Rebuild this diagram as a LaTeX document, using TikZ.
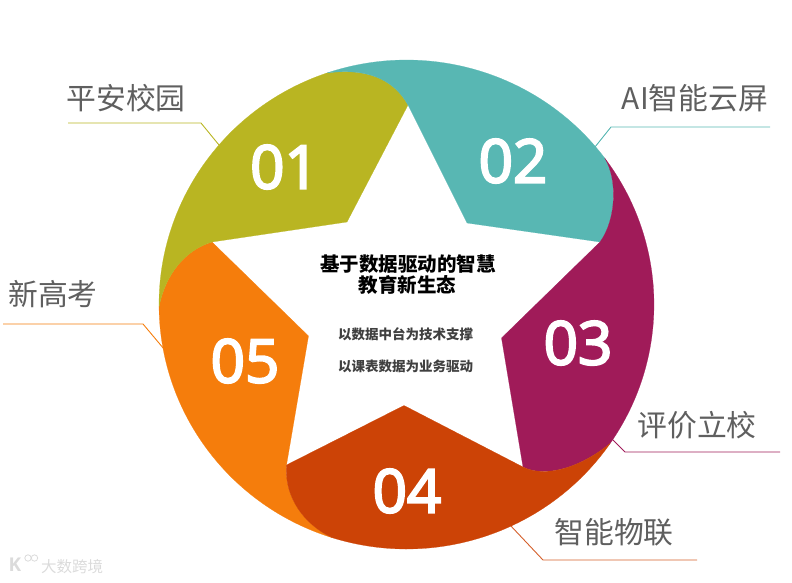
\documentclass[tikz,border=0pt]{standalone}
\usepackage{fontspec}
\setmainfont{Open Sans}
\newfontfamily\numf{Open Sans}[FakeBold=3.5]
\newfontfamily\cjk{Noto Sans CJK SC}
\usetikzlibrary{calc}
\definecolor{c01}{HTML}{B9B522}
\definecolor{c02}{HTML}{58B7B3}
\definecolor{c03}{HTML}{A01B59}
\definecolor{c04}{HTML}{CC4306}
\definecolor{c05}{HTML}{F57D0C}
\definecolor{lab}{HTML}{5F5F5F}
\tikzset{
  seg/.style={fill=#1,draw=#1,line width=0.2pt,line join=round},
  num/.style={text=white,font=\numf\fontsize{60}{60}\selectfont,inner sep=0pt},
  lbl/.style={text=lab,font=\cjk\fontsize{29.8}{30}\selectfont,inner sep=0pt},
  lead/.style={draw=#1,line width=0.9pt},
  title/.style={text=black,font=\cjk\bfseries\fontsize{19.5}{20}\selectfont,inner sep=0pt},
  subt/.style={text=black!75,font=\cjk\bfseries\fontsize{13.5}{14}\selectfont,inner sep=0pt},
  outer/.style={x radius=247.5,y radius=244.5},
  wmark/.style={text=black!14,font=\cjk\fontsize{15.5}{16}\selectfont,inner sep=0pt}
}
\begin{document}
\begin{tikzpicture}[x=1pt,y=-1pt]
\useasboundingbox (0,0) rectangle (792,583);
\coordinate (c) at (406.5,304.5);
\coordinate (p12) at ($(c)+(-108.7:247.5 and 244.5)$);
\coordinate (p23) at ($(c)+(-36.8:247.5 and 244.5)$);
\coordinate (p34) at ($(c)+(34.6:247.5 and 244.5)$);
\coordinate (p45) at ($(c)+(107.5:247.5 and 244.5)$);
\coordinate (p51) at ($(c)+(179.4:247.5 and 244.5)$);
% leaders' free ends
\coordinate (l1a) at (68,123);  \coordinate (l1b) at (201,123);  \coordinate (l1c) at (219,145);
\coordinate (l2a) at (770,127); \coordinate (l2b) at (611,127);  \coordinate (l2c) at (595,147);
\coordinate (l3a) at (780,452); \coordinate (l3b) at (625,452);  \coordinate (l3c) at (611,438);
\coordinate (l4a) at (697,560); \coordinate (l4b) at (543,560);  \coordinate (l4c) at (510,525);
\coordinate (l5a) at (3,324);   \coordinate (l5b) at (143,324);  \coordinate (l5c) at (164,349);
\draw[lead=c01] (l1a) -- (l1b) -- (l1c);
\draw[lead=c02] (l2a) -- (l2b) -- (l2c);
\draw[lead=c03] (l3a) -- (l3b) -- (l3c);
\draw[lead=c04!85!white] (l4a) -- (l4b) -- (l4c);
\draw[lead=c05] (l5a) -- (l5b) -- (l5c);
% segments
\path[seg=c05] (p45) arc[start angle=107.5,end angle=179.4,outer]
  .. controls (165,275) and (185,250) .. (212,242)
  -- (308.5,336) -- (286.5,465)
  .. controls (284,498) and (305,525) .. (p45) -- cycle;
\path[seg=c01] (p51) arc[start angle=179.4,end angle=251.3,outer]
  .. controls (365,68) and (393,78) .. (408,105)
  -- (347,222) -- (212,242)
  .. controls (185,250) and (165,275) .. (p51) -- cycle;
\path[seg=c02] (p12) arc[start angle=-108.7,end angle=-36.8,outer]
  .. controls (618,180) and (616,220) .. (600,242)
  -- (467,223) -- (408,105)
  .. controls (393,78) and (365,68) .. (p12) -- cycle;
\path[seg=c03] (p23) arc[start angle=-36.8,end angle=34.6,outer]
  .. controls (580,468) and (545,478) .. (523,467)
  -- (501.5,338) -- (600,242)
  .. controls (616,220) and (618,180) .. (p23) -- cycle;
\path[seg=c04] (p34) arc[start angle=34.6,end angle=107.5,outer]
  .. controls (305,525) and (284,498) .. (286.5,465)
  -- (404,405.5) -- (523,467)
  .. controls (545,478) and (580,468) .. (p34) -- cycle;
% numbers
\node[num] (n1) at (284.5,167) {01};
\node[num] (n2) at (513,161) {02};
\node[num] (n3) at (578,343) {03};
\node[num] (n4) at (407,491) {04};
\node[num] (n5) at (245,361) {05};
% labels
\node[lbl] (t1) at (126,98)  {平安校园};
\node[lbl] (t2) at (695,98)  {AI智能云屏};
\node[lbl] (t3) at (697,425) {评价立校};
\node[lbl] (t4) at (614,532) {智能物联};
\node[lbl] (t5) at (53,294)  {新高考};
% centre
\node[title] (h1) at (408,264) {基于数据驱动的智慧};
\node[title] (h2) at (407.5,285) {教育新生态};
\node[subt] (s1) at (405.5,334) {以数据中台为技术支撑};
\node[subt] (s2) at (405.5,366) {以课表数据为业务驱动};
% watermark
\node[wmark] (w) at (72,567) {大数跨境};
\node[text=black!14,font=\bfseries\fontsize{19}{19}\selectfont,inner sep=0pt] (wk) at (15,565) {K};
\draw[black!14,line width=0.8pt] (28,558) circle[radius=3.2];
\draw[black!14,line width=0.8pt] (34.5,558) circle[radius=3.2];
\end{tikzpicture}
\end{document}
